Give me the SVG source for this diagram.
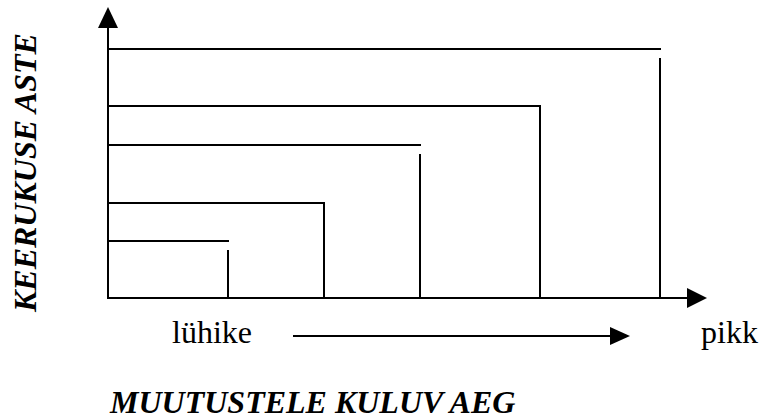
<svg xmlns="http://www.w3.org/2000/svg" width="773" height="419" viewBox="0 0 773 419">
<style>
.ln{stroke:#000;stroke-width:2;fill:none}
.ah{fill:#000}
.t{font-family:'Liberation Serif','Times New Roman',serif;font-size:32px;fill:#000}
.bi{font-weight:bold;font-style:italic}
</style>
<rect width="773" height="419" fill="#fff"/>
<g id="axes">
<line class="ln" x1="108" y1="299" x2="108" y2="26"/>
<polygon class="ah" points="108,7 98,28 118,28"/>
<line class="ln" x1="107" y1="298" x2="689" y2="298"/>
<polygon class="ah" points="707,298 687,288 687,308"/>
</g>
<g id="connectors">
<polyline class="ln" points="108,49 661,49"/>
<line class="ln" x1="660" y1="58" x2="660" y2="298"/>
<polyline class="ln" points="108,106 540,106 540,298"/>
<polyline class="ln" points="108,145 421,145"/>
<line class="ln" x1="420" y1="154" x2="420" y2="298"/>
<polyline class="ln" points="108,203 324,203 324,298"/>
<polyline class="ln" points="108,241 229,241"/>
<line class="ln" x1="228" y1="250" x2="228" y2="298"/>
<line class="ln" x1="293" y1="336" x2="612" y2="336"/>
<polygon class="ah" points="630,336 610,327 610,345"/>
</g>
<g id="labels">
<text class="t" x="172" y="343">lühike</text>
<text class="t" x="701" y="343">pikk</text>
<text class="t bi" x="110" y="413">MUUTUSTELE KULUV AEG</text>
<text class="t bi" transform="translate(36,312) rotate(-90)">KEERUKUSE ASTE</text>
</g>
</svg>
